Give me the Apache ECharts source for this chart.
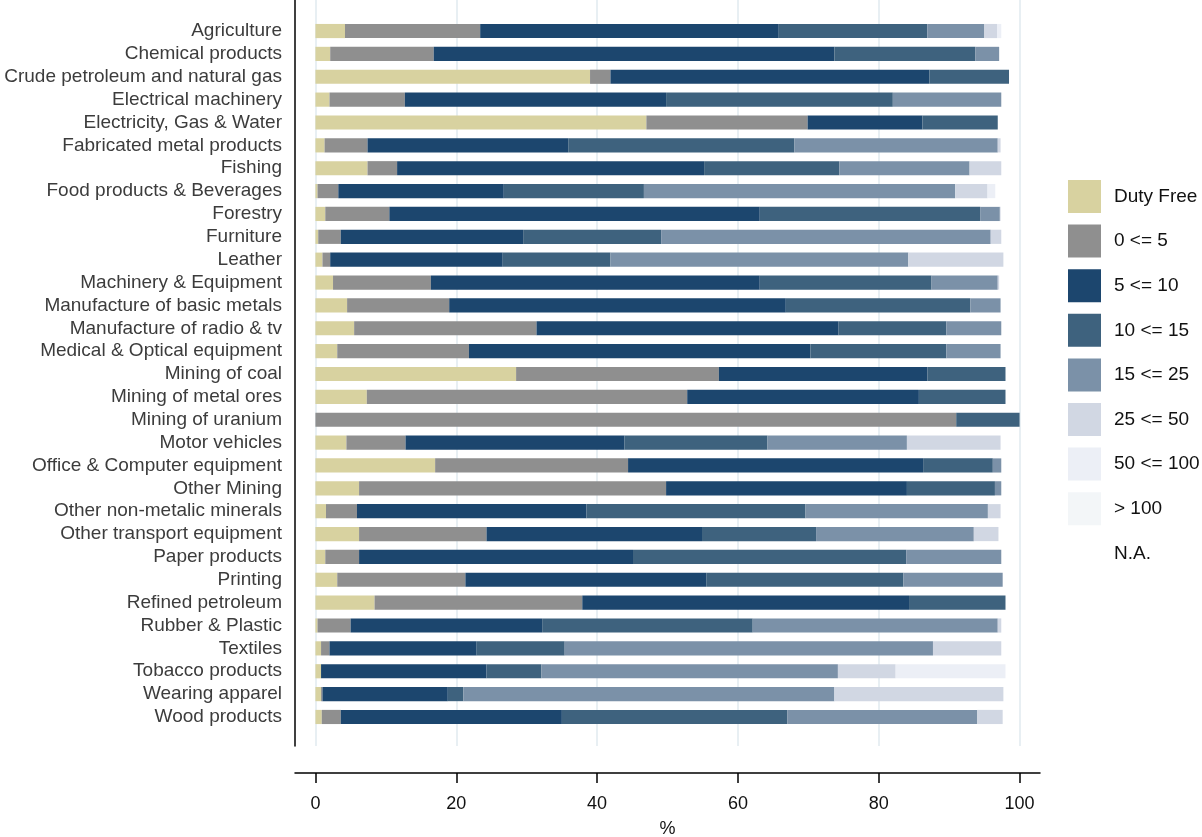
<!DOCTYPE html>
<html>
<head>
<meta charset="utf-8">
<script src="https://cdn.jsdelivr.net/npm/echarts@6/dist/echarts.min.js"></script>
<style>
html,body{margin:0;padding:0;background:#fff;}
#chart{width:1202px;height:837px;}
</style>
</head>
<body>
<div id="chart"></div>
<script>
const categories = ["Agriculture","Chemical products","Crude petroleum and natural gas","Electrical machinery","Electricity, Gas & Water","Fabricated metal products","Fishing","Food products & Beverages","Forestry","Furniture","Leather","Machinery & Equipment","Manufacture of basic metals","Manufacture of radio & tv","Medical & Optical equipment","Mining of coal","Mining of metal ores","Mining of uranium","Motor vehicles","Office & Computer equipment","Other Mining","Other non-metalic minerals","Other transport equipment","Paper products","Printing","Refined petroleum","Rubber & Plastic","Textiles","Tobacco products","Wearing apparel","Wood products"];

const seriesNames = ["Duty Free","0 <= 5","5 <= 10","10 <= 15","15 <= 25","25 <= 50","50 <= 100","> 100","N.A."];

const dutyFree = [4.2,2.1,39.0,2.0,47.0,1.3,7.4,0.3,1.4,0.4,1.0,2.5,4.5,5.5,3.1,28.5,7.3,0,4.4,17.0,6.2,1.5,6.2,1.4,3.1,8.4,0.3,0.8,0.8,0.8,0.9];
const r0to5 = [19.2,14.7,2.9,10.7,22.9,6.1,4.2,2.95,9.1,3.2,1.1,13.9,14.5,25.9,18.7,28.8,45.5,91.0,8.4,27.4,43.6,4.4,18.1,4.8,18.2,29.5,4.7,1.2,0,0.2,2.7];
const r5to10 = [42.4,56.9,45.3,37.1,16.3,28.5,43.6,23.5,52.6,25.9,24.5,46.7,47.8,42.9,48.5,29.6,32.9,0,31.1,41.9,34.2,32.6,30.6,38.9,34.2,46.4,27.2,20.9,23.5,17.8,31.4];
const r10to15 = [21.1,20.0,11.3,32.2,10.7,32.1,19.2,19.9,31.3,19.6,15.3,24.4,26.2,15.3,19.3,11.1,12.3,9.0,20.3,9.9,12.5,31.1,16.2,38.8,28.0,13.7,29.9,12.5,7.8,2.2,32.0];
const r15to25 = [8.1,3.4,0,15.4,0,28.9,18.5,44.2,2.8,46.8,42.3,9.4,4.3,7.8,7.7,0,0,0,19.8,1.2,0.9,25.9,22.4,13.5,14.1,0,34.8,52.3,42.1,52.7,27.0];
const r25to50 = [1.8,0,0,0,0,0.4,4.5,4.6,0.1,1.5,13.5,0.2,0,0,0,0,0,0,13.3,0,0,1.8,3.5,0,0,0,0.5,9.7,8.2,24.0,3.6];
const r50to100 = [0.6,0,0,0,0,0,0,1.1,0,0,0,0,0,0,0,0,0,0,0,0,0,0,0,0,0,0,0,0,15.6,0,0];
const over100 = [0,0,0,0,0,0,0,0,0,0,0,0,0,0,0,0,0,0,0,0,0,0,0,0,0,0,0,0,0,0,0];
const notAvailable = [];

const xTicks = [0,20,40,60,80,100];

const colors = ["#d8d2a0","#8f8f8f","#1c466e","#3e627e","#7b91a8","#d1d7e3","#eceff6","#f3f6f8","#ffffff"];
const seriesData = [dutyFree,r0to5,r5to10,r10to15,r15to25,r25to50,r50to100,over100,notAvailable];

const FONT = "'Liberation Sans', Arial, sans-serif";

const chart = echarts.init(document.getElementById('chart'), null, {renderer:'canvas'});

const option = {
  backgroundColor: '#ffffff',
  animation: false,
  textStyle: {fontFamily: FONT},
  legend: {
    orient: 'vertical',
    left: 1063,
    top: 175,
    itemWidth: 33,
    itemHeight: 33,
    itemGap: 11.6,
    icon: 'rect',
    selectedMode: false,
    data: seriesNames,
    textStyle: {fontFamily: FONT, fontSize: 19, color: '#111111', padding: [0,0,0,8]}
  },
  grid: [
    {left: 295, right: 162, top: 0, bottom: 91, containLabel: false, outerBoundsMode: 'none'},
    {left: 295, right: 162, top: 19.6, bottom: 108.6, containLabel: false, outerBoundsMode: 'none'}
  ],
  xAxis: [
    {
      gridIndex: 0, type: 'value', min: -2.9, max: 102.9,
      position: 'bottom', offset: 27,
      axisLine: {show: true, onZero: false, lineStyle: {color: '#000', width: 1.5}},
      axisTick: {show: true, inside: false, length: 10, customValues: xTicks, lineStyle: {color: '#000', width: 1.5}},
      axisLabel: {show: true, customValues: xTicks, margin: 22, fontSize: 18, color: '#111', fontFamily: FONT},
      splitLine: {show: true, lineStyle: {color: '#e8eff3', width: 2}},
      name: '%', nameLocation: 'middle', nameGap: 47,
      nameTextStyle: {fontSize: 18, color: '#111', fontFamily: FONT}
    },
    {
      gridIndex: 1, type: 'value', min: -2.9, max: 102.9,
      show: false
    }
  ],
  yAxis: [
    {
      gridIndex: 0, type: 'value', min: 0, max: 1,
      axisLine: {show: true, onZero: false, lineStyle: {color: '#000', width: 1.5}},
      axisTick: {show: false}, axisLabel: {show: false}, splitLine: {show: false}
    },
    {
      gridIndex: 1, type: 'category', data: categories, inverse: true,
      axisLine: {show: false}, axisTick: {show: false},
      axisLabel: {margin: 13, fontSize: 19, color: '#3c3c3c', fontFamily: FONT, interval: 0},
      splitLine: {show: false}
    }
  ],
  series: seriesNames.map((name, i) => ({
    name: name,
    type: 'bar',
    stack: 'total',
    xAxisIndex: 1,
    yAxisIndex: 1,
    barCategoryGap: '38%',
    itemStyle: {color: colors[i]},
    emphasis: {disabled: true},
    data: seriesData[i]
  }))
};
chart.setOption(option);
</script>
</body>
</html>
